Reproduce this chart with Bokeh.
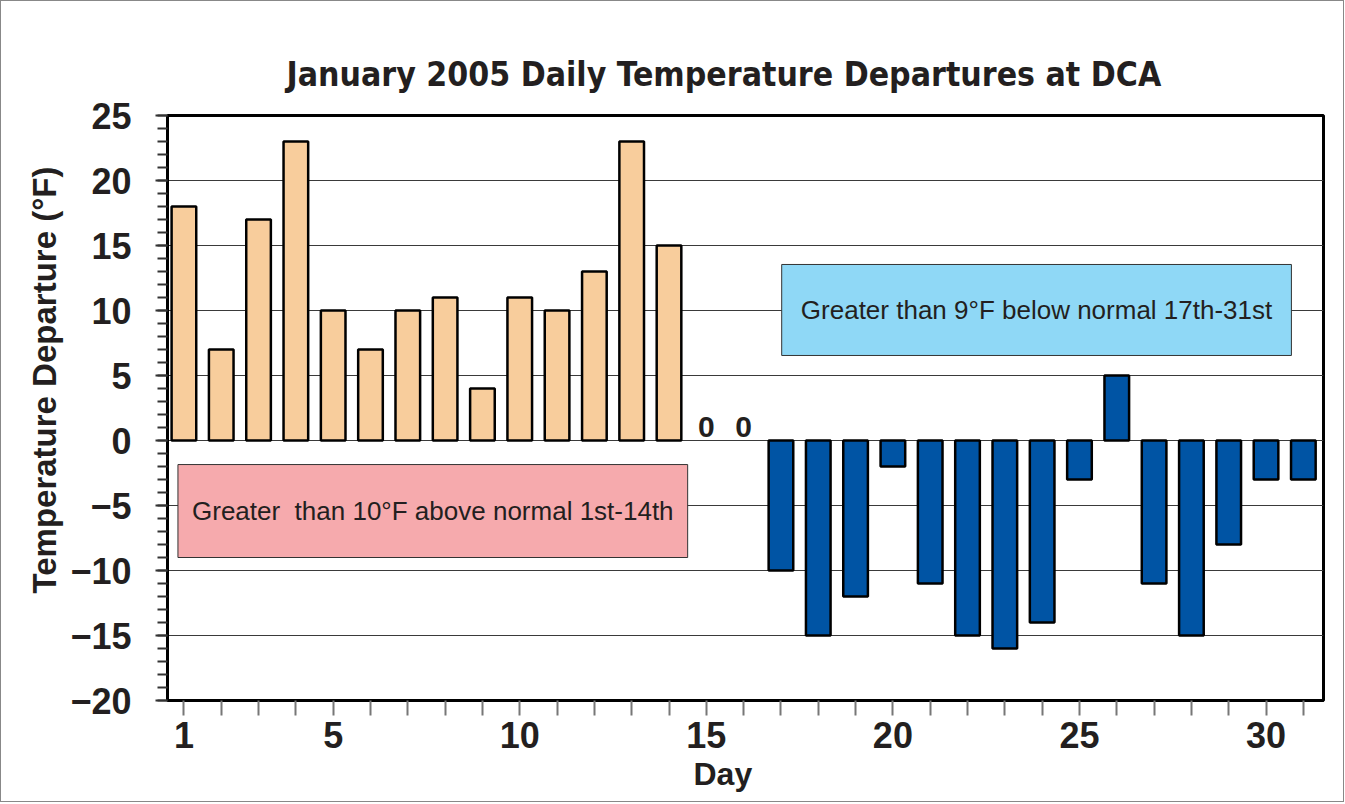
from bokeh.plotting import figure
from bokeh.models import FixedTicker, Range1d, Title, ColumnDataSource
from bokeh.core.properties import value
from bokeh.embed import file_html
from bokeh.resources import INLINE

days = list(range(1, 32))
departures = [18, 7, 17, 23, 10, 7, 10, 11, 4, 11, 10, 13, 23, 15, 0, 0,
              -10, -15, -12, -2, -11, -15, -16, -14, -3, 5, -11, -15, -8, -3, -3]
x_tick_labels = {1: "1", 5: "5", 10: "10", 15: "15", 20: "20", 25: "25", 30: "30"}
y_ticks = [-20, -15, -10, -5, 0, 5, 10, 15, 20, 25]
title_text = "January 2005 Daily Temperature Departures at DCA"
x_label = "Day"
y_label = "Temperature Departure (°F)"
warm_note = "Greater \u00a0than 10°F above normal 1st-14th"
cold_note = "Greater than 9°F below normal 17th-31st"
warm_span = (0.84, 14.5, -1.85, -9.0)
cold_span = (17.02, 30.68, 13.54, 6.54)
zero_days = [15, 16]

warm_color = "#F8CD9C"
cold_color = "#0054A4"
colors = [warm_color if d <= 16 else cold_color for d in days]
outlines = ["black" if v != 0 else None for v in departures]

p = figure(width=1344, height=802, output_backend="svg", toolbar_location=None,
           x_range=Range1d(0.56, 31.54), y_range=Range1d(-20, 25),
           min_border_left=166, min_border_right=22, min_border_top=114,
           min_border_bottom=103, title=None)
p.styles = {"border": "1px solid #888"}
p.background_fill_color = "white"
p.border_fill_color = "white"
p.outline_line_color = "black"
p.outline_line_width = 3

# grid
p.xgrid.visible = False
p.ygrid.ticker = FixedTicker(ticks=[-15, -10, -5, 0, 5, 10, 15, 20])
p.ygrid.grid_line_color = "#3a3a3a"
p.ygrid.grid_line_width = 1

# boxes
for (x0, x1, y0, y1), fill in [(warm_span, "#F6AAAD"), (cold_span, "#8FD8F6")]:
    p.quad(left=x0, right=x1, top=y0, bottom=y1, fill_color=fill,
           line_color="#333333", line_width=1)

src = ColumnDataSource(dict(x=days, top=departures, color=colors, outline=outlines))
p.vbar(x="x", top="top", bottom=0, width=0.66, source=src, fill_color="color",
       line_color="outline", line_width=2.5)

# notes
p.text(x=[(warm_span[0] + warm_span[1]) / 2], y=[(warm_span[2] + warm_span[3]) / 2],
       text=[warm_note], text_align="center", text_baseline="middle",
       text_font=value("Liberation Sans"), text_font_size="26px", text_color="#231f20")
p.text(x=[(cold_span[0] + cold_span[1]) / 2], y=[(cold_span[2] + cold_span[3]) / 2],
       text=[cold_note], text_align="center", text_baseline="middle",
       text_font=value("Liberation Sans"), text_font_size="26px", text_color="#231f20")
p.text(x=zero_days, y=[0.25] * len(zero_days), text=["0"] * len(zero_days),
       text_align="center", text_baseline="bottom", text_font=value("Liberation Sans"),
       text_font_style="bold", text_font_size="30px", text_color="#231f20")

# axes
xa = p.xaxis[0]
xa.ticker = FixedTicker(ticks=days)
xa.major_label_overrides = {d: x_tick_labels.get(d, "") for d in days}
xa.major_tick_out = 15
xa.major_tick_in = 0
xa.major_tick_line_color = "#777777"
xa.major_tick_line_width = 2
xa.minor_tick_line_color = None
xa.axis_line_color = "black"
xa.axis_line_width = 3
xa.major_label_text_font = "Liberation Sans"
xa.major_label_text_font_style = "bold"
xa.major_label_text_font_size = "36px"
xa.major_label_text_color = "#231f20"
xa.major_label_standoff = 6

ya = p.yaxis[0]
ya.ticker = FixedTicker(ticks=y_ticks, minor_ticks=list(range(-20, 26)))
ya.major_tick_out = 12
ya.major_tick_in = 0
ya.minor_tick_out = 10
ya.minor_tick_in = 0
ya.major_tick_line_color = "#333333"
ya.minor_tick_line_color = "#333333"
ya.major_tick_line_width = 2
ya.minor_tick_line_width = 2
ya.axis_line_color = "black"
ya.axis_line_width = 3
ya.major_label_text_font = "Liberation Sans"
ya.major_label_text_font_style = "bold"
ya.major_label_text_font_size = "36px"
ya.major_label_text_color = "#231f20"
ya.major_label_standoff = 24

# title and axis titles
p.add_layout(Title(text=title_text, align="left", offset=119, standoff=44,
                   text_font="'DejaVu Sans Condensed', 'Liberation Sans'",
                   text_font_style="bold",
                   text_font_size="33.5px", text_color="#231f20"), "above")
p.add_layout(Title(text=x_label, align="left", offset=526, standoff=6,
                   text_font="Liberation Sans", text_font_style="bold",
                   text_font_size="32px", text_color="#231f20"), "below")
p.add_layout(Title(text=y_label, align="left", offset=107, standoff=10,
                   text_font="Liberation Sans", text_font_style="bold",
                   text_font_size="33px", text_color="#231f20"), "left")

open("out.html", "w").write(file_html(p, INLINE))
